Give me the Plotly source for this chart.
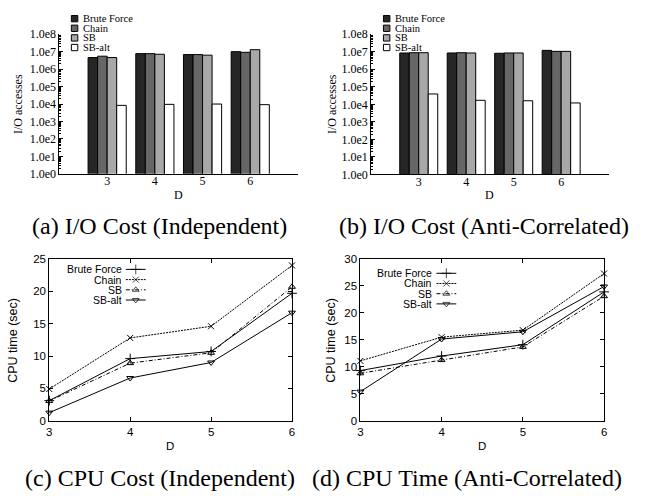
import plotly.graph_objects as go

# ---------------- data ----------------
D = [3, 4, 5, 6]
series_names = ["Brute Force", "Chain", "SB", "SB-alt"]

io_ind_bf = [4.6e6, 7.7e6, 6.8e6, 1.0e7]
io_ind_chain = [5.5e6, 7.7e6, 6.8e6, 9.2e6]
io_ind_sb = [4.6e6, 7.1e6, 6.3e6, 1.3e7]
io_ind_sbalt = [8.4e3, 9.6e3, 1.0e4, 9.2e3]

io_anti_bf = [8.5e6, 8.5e6, 8.2e6, 1.2e7]
io_anti_chain = [8.8e6, 8.8e6, 8.5e6, 1.05e7]
io_anti_sb = [8.8e6, 8.5e6, 8.5e6, 1.05e7]
io_anti_sbalt = [3.9e4, 1.7e4, 1.6e4, 1.2e4]

cpu_ind_bf = [3.1, 9.6, 10.7, 19.7]
cpu_ind_chain = [4.9, 12.8, 14.6, 24.0]
cpu_ind_sb = [3.05, 8.9, 10.5, 20.7]
cpu_ind_sbalt = [1.25, 6.6, 9.0, 16.7]

cpu_anti_bf = [9.3, 12.0, 14.1, 23.9]
cpu_anti_chain = [11.1, 15.5, 16.8, 27.3]
cpu_anti_sb = [8.8, 11.25, 13.7, 23.1]
cpu_anti_sbalt = [5.4, 15.15, 16.5, 24.9]

log_tickvals = [1, 10, 100, 1e3, 1e4, 1e5, 1e6, 1e7, 1e8]
log_ticktext = ["1.0e0", "1.0e1", "1.0e2", "1.0e3", "1.0e4", "1.0e5", "1.0e6", "1.0e7", "1.0e8"]
captions = ["(a) I/O Cost (Independent)", "(b) I/O Cost (Anti-Correlated)",
            "(c) CPU Cost (Independent)", "(d) CPU Time (Anti-Correlated)"]

# ---------------- styles ----------------
W, H = 648, 497
SERIF = "Liberation Serif"
SANS = "Liberation Sans"
bar_colors = ["#262626", "#666666", "#a8a8a8", "#ffffff"]
line_dash = ["solid", "2px,1px", "4px,2px,1px,2px", "solid"]
markers = ["cross-thin-open", "x-thin-open", "triangle-up-open", "triangle-down-open"]
msizes = [7, 6, 6, 6]


def fx(p):
    return p / W


def fy(p):
    return 1 - p / H


fig = go.Figure()

# ---------------- bar charts ----------------
io_sets = [
    ([io_ind_bf, io_ind_chain, io_ind_sb, io_ind_sbalt], "x", "y"),
    ([io_anti_bf, io_anti_chain, io_anti_sb, io_anti_sbalt], "x2", "y2"),
]
for vals, xa, ya in io_sets:
    for i, v in enumerate(vals):
        fig.add_trace(go.Bar(
            x=D, y=v, name=series_names[i], xaxis=xa, yaxis=ya,
            marker=dict(color=bar_colors[i], line=dict(color="black", width=1)),
            showlegend=False, offsetgroup=str(i),
        ))

# ---------------- line charts ----------------
cpu_sets = [
    ([cpu_ind_bf, cpu_ind_chain, cpu_ind_sb, cpu_ind_sbalt], "x3", "y3"),
    ([cpu_anti_bf, cpu_anti_chain, cpu_anti_sb, cpu_anti_sbalt], "x4", "y4"),
]
for vals, xa, ya in cpu_sets:
    for i, v in enumerate(vals):
        fig.add_trace(go.Scatter(
            x=D, y=v, name=series_names[i], xaxis=xa, yaxis=ya, mode="lines+markers",
            line=dict(color="black", width=1, dash=line_dash[i]),
            marker=dict(symbol=markers[i], size=msizes[i], color="black",
                        line=dict(color="black", width=1)),
            showlegend=False, cliponaxis=False,
        ))

# ---------------- custom legends for line charts (pixel overlay axis) ----------------
leg_line = [  # (text right edge, line start, line end, first row y, row step)
    (121, 124, 144, 270, 10.5),
    (434.5, 437.5, 457.5, 274, 10.5),
]
annotations = []
for (tx, l0, l1, r0, step) in leg_line:
    for i in range(4):
        yy = r0 + i * step
        fig.add_trace(go.Scatter(
            x=[l0, (l0 + l1) / 2, l1], y=[yy, yy, yy], xaxis="x5", yaxis="y5",
            mode="lines+markers",
            line=dict(color="black", width=1, dash=line_dash[i]),
            marker=dict(symbol=markers[i], size=[0, msizes[i], 0], color="black",
                        line=dict(color="black", width=1)),
            showlegend=False, hoverinfo="skip", cliponaxis=False,
        ))
        annotations.append(dict(
            x=fx(tx), y=fy(yy), xref="paper", yref="paper", text=series_names[i],
            xanchor="right", yanchor="middle", showarrow=False, borderpad=0, height=10,
            font=dict(family=SANS, size=10.5, color="black"),
        ))

# ---------------- custom legends for bar charts ----------------
shapes = []
for (bx, r0) in [(69, 12), (384, 12)]:
    for i in range(4):
        yy = r0 + i * 9.9
        shapes.append(dict(type="rect", xref="paper", yref="paper",
                           x0=fx(bx), x1=fx(bx + 6.5), y0=fy(yy - 3.25), y1=fy(yy + 3.25),
                           fillcolor=bar_colors[i], line=dict(color="black", width=1)))
        annotations.append(dict(
            x=fx(bx + 10.5), y=fy(yy), xref="paper", yref="paper", text=series_names[i],
            xanchor="left", yanchor="middle", showarrow=False, borderpad=0, height=9.4,
            font=dict(family=SERIF, size=10.5, color="black"),
        ))

# ---------------- axis titles ----------------
def ann(x, y, text, family, size, angle=0):
    annotations.append(dict(x=fx(x), y=fy(y), xref="paper", yref="paper", text=text,
                            showarrow=False, xanchor="center", yanchor="middle",
                            textangle=angle, font=dict(family=family, size=size, color="black")))


ann(15, 100, "I/O accesses", SERIF, 12, -90)
ann(332, 100, "I/O accesses", SERIF, 12, -90)
ann(177, 193.5, "D", SERIF, 12)
ann(491.5, 193.5, "D", SERIF, 12)
ann(10, 342.5, "CPU time (sec)", SANS, 12.5, -90)
ann(331, 342.5, "CPU time (sec)", SANS, 12.5, -90)
ann(169, 452, "D", SANS, 11.5)
ann(483.7, 452, "D", SANS, 11.5)

# captions
ann(158, 225, captions[0], SERIF, 24)
ann(485, 225, captions[1], SERIF, 24)
ann(158, 485, captions[2], SERIF, 24)
ann(468.5, 485, captions[3], SERIF, 24)

# ---------------- axes ----------------
bar_x = dict(range=[2, 7], tickvals=D, ticks="", showline=True, linecolor="black",
             linewidth=1, showgrid=False, zeroline=False, ticklabelstandoff=-4,
             tickfont=dict(family=SERIF, size=12, color="black"))
bar_y = dict(type="log", range=[0, 8], tickvals=log_tickvals, ticktext=log_ticktext,
             ticks="inside", ticklen=4, tickcolor="black", showline=True, linecolor="black",
             linewidth=1, showgrid=False, zeroline=False,
             minor=dict(ticks="inside", ticklen=2, tickcolor="black",
                        tickvals=[m * 10 ** e for e in range(8) for m in (2, 3, 4, 5, 6, 7, 8, 9)]),
             tickfont=dict(family=SERIF, size=12, color="black"))
line_x = dict(range=[3, 6], dtick=1, ticks="inside", ticklen=4, tickcolor="black",
              showline=True, mirror="ticks", linecolor="black", linewidth=1,
              showgrid=False, zeroline=False,
              tickfont=dict(family=SANS, size=11.5, color="black"))
line_y = dict(dtick=5, ticks="inside", ticklen=4, tickcolor="black",
              showline=True, mirror="ticks", linecolor="black", linewidth=1,
              showgrid=False, zeroline=False,
              tickfont=dict(family=SANS, size=11.5, color="black"))

fig.update_layout(
    width=W, height=H, margin=dict(l=0, r=0, t=0, b=0),
    paper_bgcolor="white", plot_bgcolor="rgba(0,0,0,0)",
    barmode="group", bargap=0.2, bargroupgap=0,
    showlegend=False,
    xaxis=dict(domain=[fx(57), fx(297.7)], anchor="y", **bar_x),
    yaxis=dict(domain=[fy(171.7), fy(28)], anchor="x", **bar_y),
    xaxis2=dict(domain=[fx(371.7), fx(611.3)], anchor="y2", **bar_x),
    yaxis2=dict(domain=[fy(172.3), fy(28)], anchor="x2", **bar_y),
    xaxis3=dict(domain=[fx(46.7), fx(291.7)], anchor="y3", **line_x),
    yaxis3=dict(domain=[fy(425.7), fy(259.3)], anchor="x3", range=[0, 25], **line_y),
    xaxis4=dict(domain=[fx(360.7), fx(606.7)], anchor="y4", **line_x),
    yaxis4=dict(domain=[fy(425.7), fy(259.3)], anchor="x4", range=[0, 30], **line_y),
    xaxis5=dict(domain=[0, 1], range=[0, W], anchor="y5", visible=False, fixedrange=True),
    yaxis5=dict(domain=[0, 1], range=[H, 0], anchor="x5", visible=False, fixedrange=True),
    annotations=annotations, shapes=shapes,
)

fig.write_html("out.html", config={"displayModeBar": False},
               post_script="document.body.style.margin='0';document.body.style.overflow='hidden';")
